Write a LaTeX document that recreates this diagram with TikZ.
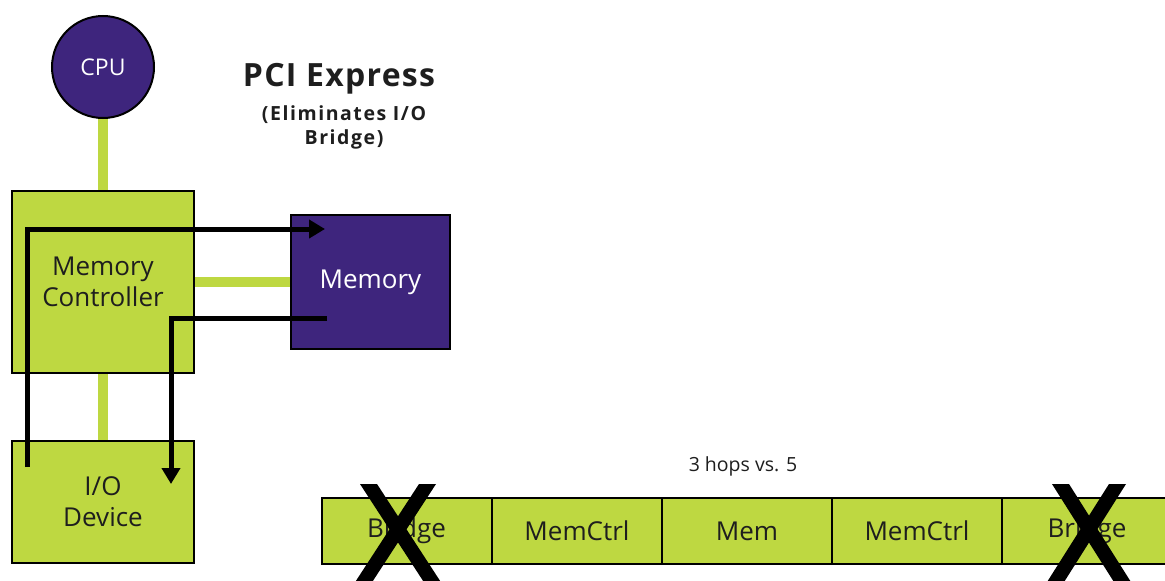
\documentclass[tikz,border=0pt]{standalone}
\usepackage{fontspec}
\setmainfont{Open Sans}
\usetikzlibrary{arrows.meta,backgrounds}
\definecolor{lime}{RGB}{190,216,65}
\definecolor{chip}{RGB}{62,37,125}
\definecolor{ink}{RGB}{30,30,30}
\newcommand{\fs}[2]{\fontsize{#1}{#2}\selectfont}

\begin{document}
\begin{tikzpicture}[x=1pt,y=-1pt,
  box/.style={draw=black, line width=2pt, fill=lime, inner sep=0pt,
              align=center, text=ink, font=\fs{26}{31}},
  darkbox/.style={draw=black, line width=2pt, fill=chip, inner sep=0pt,
              text=white, font=\fs{26}{31}},
  cell/.style={box, minimum width=170, minimum height=66},
  link/.style={draw=lime, line width=10pt},
  flow/.style={draw=black, line width=5pt, -{Triangle[length=16pt,width=18pt]}},
  cross/.style={fill=black},
]
\useasboundingbox (0,0) rectangle (1165,581);

% core blocks
\node[circle, draw=black, line width=2pt, fill=chip, minimum size=102pt,
      inner sep=0pt, text=white, font=\fs{23}{27}] (cpu) at (103,67) {CPU};
\node[box, minimum width=182pt, minimum height=182pt] (mc) at (103,282)
     {Memory\\Controller};
\node[darkbox, minimum width=159pt, minimum height=134pt] (mem) at (370.5,282) {Memory};
\node[box, minimum width=182pt, minimum height=122pt] (io) at (103,502) {I/O\\Device};

% title
\node[text=ink, font=\fs{32}{36}\bfseries\addfontfeatures{LetterSpace=4}] (title) at (339,79) {PCI Express};
\node[text=ink, align=center, font=\fs{19.5}{24}\bfseries\addfontfeatures{LetterSpace=8}] (sub) at (344,127)
     {(Eliminates I/O\\Bridge)};

% buses
\begin{scope}[on background layer]
  \fill[white] (0,0) rectangle (1165,581);
  \draw[link] (cpu.south) -- (mc.north);
  \draw[link] (mc.east) -- (mem.west);
  \draw[link] (mc.south) -- (io.north);
\end{scope}

% data paths
\coordinate (w0) at (27,467);
\coordinate (w1) at (325,229);
\coordinate (r0) at (327,318);
\coordinate (r1) at (171,484);
\draw[flow] (w0) |- (w1);
\draw[flow] (r0) -| (r1);

% hop comparison
\node[text=ink, font=\fs{19.5}{23}] (hops) at (743,466) {3 hops vs. 5};
\node[cell] (c1) at (406.5,531) {Bridge};
\node[cell] (c2) at (577,531) {MemCtrl};
\node[cell] (c3) at (747,531) {Mem};
\node[cell] (c4) at (917,531) {MemCtrl};
\node[cell] (c5) at (1087,531) {Bridge};

% crossed-out bridges
\fill[cross] (360,484) -- (377,484) -- (446,590) -- (429,590) -- cycle;
\fill[cross] (419,484) -- (436,484) -- (367,590) -- (350,590) -- cycle;
\fill[cross] (1052,484) -- (1069,484) -- (1136,590) -- (1119,590) -- cycle;
\fill[cross] (1109,484) -- (1126,484) -- (1059,590) -- (1042,590) -- cycle;
\end{tikzpicture}
\end{document}
